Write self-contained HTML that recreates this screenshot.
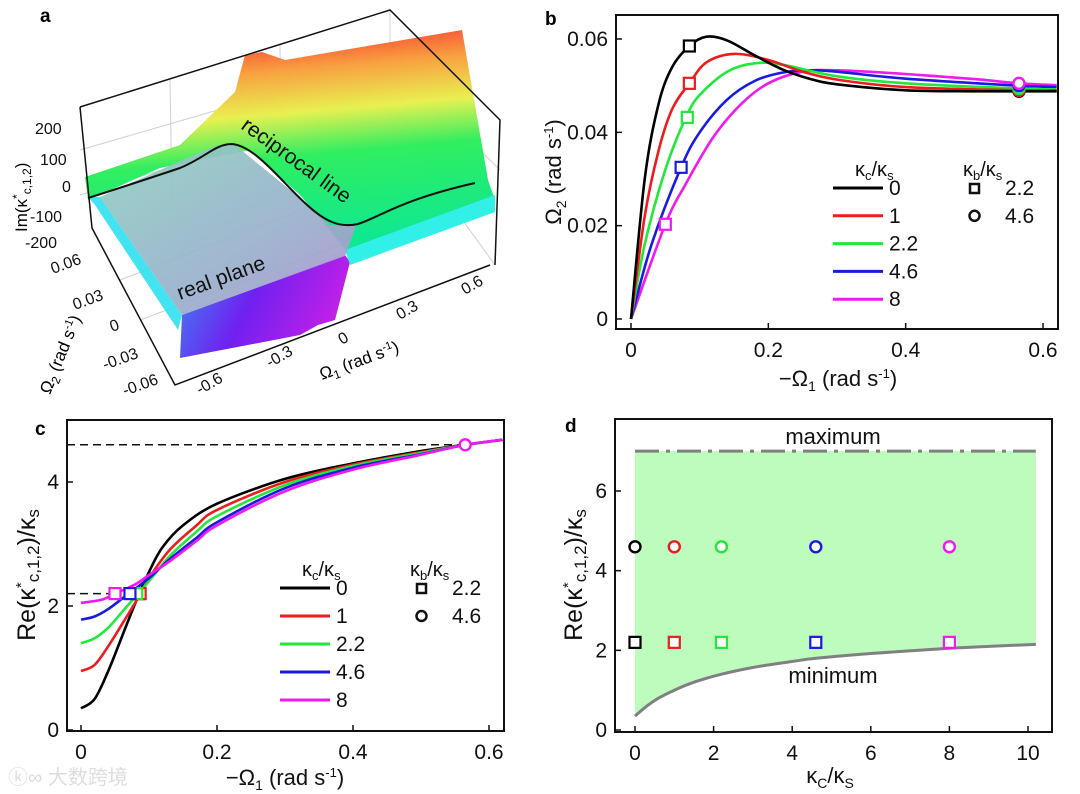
<!DOCTYPE html>
<html><head><meta charset="utf-8"><style>
html,body{margin:0;padding:0;background:#fff;}
svg{display:block;font-family:"Liberation Sans",Arial,sans-serif;}
</style></head><body>
<svg id="fig" width="1080" height="794" viewBox="0 0 1080 794" xmlns="http://www.w3.org/2000/svg">
<defs>
<linearGradient id="gUp" x1="0.55" y1="0.95" x2="0.4" y2="0">
<stop offset="0" stop-color="#10e890"/><stop offset="0.4" stop-color="#30ee60"/><stop offset="0.6" stop-color="#e8f050"/><stop offset="0.8" stop-color="#f8a040"/><stop offset="1" stop-color="#f83030"/>
</linearGradient>
<linearGradient id="gLo" x1="0" y1="0" x2="1" y2="0.3">
<stop offset="0" stop-color="#3a8cf0"/><stop offset="0.5" stop-color="#7020f0"/><stop offset="1" stop-color="#c020e8"/>
</linearGradient>
<linearGradient id="gPlane" x1="0" y1="0" x2="1" y2="1">
<stop offset="0" stop-color="#8fd0c0"/><stop offset="0.6" stop-color="#98b0cc"/><stop offset="1" stop-color="#b090d0"/>
</linearGradient>
</defs>

<g>
<text x="40" y="22" font-size="19" font-weight="bold">a</text>
<g stroke="#d0d0d0" stroke-width="1" fill="none">
<line x1="170" y1="80" x2="172" y2="200"/><line x1="280" y1="45" x2="282" y2="170"/><line x1="390" y1="10" x2="390" y2="130"/>
<line x1="80" y1="150" x2="390" y2="60"/><line x1="80" y1="195" x2="390" y2="100"/>
<line x1="390" y1="60" x2="500" y2="170"/><line x1="390" y1="120" x2="495" y2="265"/>
<line x1="120" y1="280" x2="430" y2="160"/><line x1="140" y1="320" x2="460" y2="200"/>
</g>
<polygon points="85,177 180,145 235,92 245,55 262,52 285,60 462,30 488,180 495,200 347,252 330,230 300,195 250,150 160,168 88,200" fill="url(#gUp)"/>
<polygon points="182,315 345,255 350,262 335,320 318,325 300,335 180,358" fill="url(#gLo)"/>
<polygon points="88,197 100,197 182,315 178,330 95,205" fill="#30e0f0" opacity="0.9"/>
<polygon points="345,250 495,195 495,212 350,265" fill="#30f0e8"/>
<polygon points="100,197 160,170 215,146 235,145 300,198 330,225 356,226 345,256 182,315" fill="url(#gPlane)" opacity="0.92"/>
<path d="M88,198 C120,188 150,178 180,168 C205,158 215,144 232,144 C255,146 280,180 305,203 C325,222 340,228 358,224 C380,217 400,200 475,183" fill="none" stroke="#111" stroke-width="2"/>
<g stroke="#111" stroke-width="1.5" fill="none">
<polyline points="80,107 390,10 500,120 495,265"/>
<polyline points="80,107 92,228 175,385 490,265"/>
</g>
<g font-size="16" fill="#111">
<text x="35" y="134">200</text><text x="40" y="165">100</text><text x="62" y="192">0</text><text x="30" y="222">-100</text><text x="25" y="248">-200</text>
</g>
<g font-size="16" fill="#111">
<text x="53" y="274" transform="rotate(-20 53 274)">0.06</text><text x="75" y="310" transform="rotate(-20 75 310)">0.03</text><text x="112" y="332" transform="rotate(-20 112 332)">0</text><text x="105" y="370" transform="rotate(-20 105 370)">-0.03</text><text x="125" y="396" transform="rotate(-20 125 396)">-0.06</text>
</g>
<g font-size="16" fill="#111">
<text x="200" y="395" transform="rotate(-30 200 395)">-0.6</text><text x="270" y="368" transform="rotate(-30 270 368)">-0.3</text><text x="342" y="345" transform="rotate(-30 342 345)">0</text><text x="400" y="320" transform="rotate(-30 400 320)">0.3</text><text x="465" y="295" transform="rotate(-30 465 295)">0.6</text>
</g>
<text x="27" y="232" font-size="17" transform="rotate(-90 27 232)">Im(κ<tspan font-size="12" dy="-6">*</tspan><tspan font-size="12" dy="10">c,1,2</tspan><tspan dy="-4">)</tspan></text>
<text x="50" y="395" font-size="17" transform="rotate(-68 50 395)">Ω<tspan font-size="12" dy="4">2</tspan><tspan dy="-4"> (rad s</tspan><tspan font-size="11" dy="-6">-1</tspan><tspan dy="6">)</tspan></text>
<text x="322" y="380" font-size="17" transform="rotate(-20 322 380)">Ω<tspan font-size="12" dy="4">1</tspan><tspan dy="-4"> (rad s</tspan><tspan font-size="11" dy="-6">-1</tspan><tspan dy="6">)</tspan></text>
<text x="240" y="128" font-size="21" fill="#111" transform="rotate(36 240 128)">reciprocal line</text>
<text x="180" y="300" font-size="21" fill="#111" transform="rotate(-20 180 300)">real plane</text>
</g>

<g id="pb"></g>
<g id="pc"></g>
<g id="pd"></g>
<text x="8" y="784" font-size="20" fill="#ddd" font-family="'Liberation Sans','Noto Sans CJK SC',sans-serif">ⓚ∞ 大数跨境</text>
</svg>
<script>
const NS="http://www.w3.org/2000/svg";
const colors=["#000000","#ee1c1c","#22e83a","#1a1ae0","#f019f0"];
const kcLabels=["0","1","2.2","4.6","8"];
// Panel b data
const bX0=[0,0.02,0.04,0.06,0.085,0.11,0.14,0.18,0.22,0.26,0.3,0.4,0.5,0.565,0.62];
const bY0=[0,0.03,0.046,0.054,0.0585,0.0605,0.0597,0.0565,0.0535,0.0515,0.0503,0.049,0.0488,0.0488,0.0488];
const bX1=[0,0.02,0.04,0.06,0.085,0.11,0.15,0.2,0.25,0.3,0.4,0.565,0.62];
const bY1=[0,0.022,0.036,0.045,0.0505,0.055,0.0568,0.0555,0.053,0.0513,0.0497,0.049,0.049];
const bX2=[0,0.02,0.05,0.08,0.1,0.14,0.18,0.22,0.3,0.4,0.565,0.62];
const bY2=[0,0.016,0.032,0.0432,0.048,0.053,0.0548,0.0545,0.052,0.0505,0.0494,0.0492];
const bX3=[0,0.03,0.073,0.1,0.14,0.18,0.22,0.26,0.3,0.4,0.565,0.62];
const bY3=[0,0.016,0.0325,0.04,0.047,0.051,0.0528,0.0533,0.053,0.0515,0.05,0.0497];
const bX4=[0,0.05,0.08,0.12,0.16,0.2,0.25,0.3,0.4,0.5,0.565,0.62];
const bY4=[0,0.0203,0.029,0.039,0.046,0.0505,0.053,0.0533,0.0525,0.0514,0.0505,0.0501];
const bSqX=[0.085,0.085,0.082,0.073,0.05];
const bSqY=[0.0585,0.0505,0.0432,0.0325,0.0203];
const bCiX=[0.565,0.565,0.565,0.565,0.565];
const bCiY=[0.0488,0.049,0.0494,0.05,0.0505];
const bXTicks=[0,0.2,0.4,0.6];
const bYTicks=[0,0.02,0.04,0.06];
// Panel c data
const cX0=[0,0.02,0.04,0.06,0.08,0.1,0.12,0.15,0.2,0.3,0.4,0.5,0.565,0.62];
const cY0=[0.35,0.5,0.95,1.5,2.05,2.55,2.95,3.3,3.65,4.05,4.3,4.5,4.6,4.68];
const cX1=[0,0.02,0.04,0.06,0.085,0.1,0.13,0.17,0.2,0.3,0.4,0.5,0.565,0.62];
const cY1=[0.95,1.05,1.35,1.7,2.15,2.45,2.9,3.3,3.55,4.0,4.28,4.48,4.6,4.68];
const cX2=[0,0.02,0.04,0.06,0.08,0.1,0.13,0.17,0.2,0.3,0.4,0.5,0.565,0.62];
const cY2=[1.4,1.48,1.65,1.9,2.15,2.4,2.8,3.2,3.45,3.95,4.26,4.47,4.6,4.68];
const cX3=[0,0.02,0.04,0.07,0.1,0.13,0.17,0.2,0.3,0.4,0.5,0.565,0.62];
const cY3=[1.78,1.83,1.95,2.2,2.45,2.75,3.1,3.35,3.9,4.23,4.45,4.6,4.68];
const cX4=[0,0.03,0.05,0.08,0.1,0.13,0.17,0.2,0.3,0.4,0.5,0.565,0.62];
const cY4=[2.05,2.1,2.2,2.35,2.5,2.72,3.05,3.3,3.85,4.2,4.44,4.6,4.68];
const cSqX=[0.085,0.087,0.082,0.072,0.05];
const cSqY=[2.2,2.2,2.2,2.2,2.2];
const cRefLines=[4.6,2.2];
const cXTicks=[0,0.2,0.4,0.6];
const cYTicks=[0,2,4];
// Panel d data
const dKc=[0,1,2.2,4.6,8];
const dCircleY=[4.6,4.6,4.6,4.6,4.6];
const dSquareY=[2.2,2.2,2.2,2.2,2.2];
const dMinX=[0,0.3,0.6,1,1.5,2.2,3,4,4.6,6,8,9,10.2];
const dMinY=[0.35,0.6,0.8,1.0,1.2,1.4,1.57,1.72,1.8,1.92,2.05,2.1,2.15];
const dMax=7;
const dXTicks=[0,2,4,6,8,10];
const dYTicks=[0,2,4,6];

function el(tag,attrs,parent){const e=document.createElementNS(NS,tag);for(const k in attrs)e.setAttribute(k,attrs[k]);parent.appendChild(e);return e;}
function lin(d0,d1,r0,r1){return v=>r0+(v-d0)*(r1-r0)/(d1-d0);}
function smooth(pts){let d="M"+pts[0][0]+","+pts[0][1];for(let i=0;i<pts.length-1;i++){const p0=pts[Math.max(0,i-1)],p1=pts[i],p2=pts[i+1],p3=pts[Math.min(pts.length-1,i+2)];const c1x=p1[0]+(p2[0]-p0[0])/6,c1y=p1[1]+(p2[1]-p0[1])/6,c2x=p2[0]-(p3[0]-p1[0])/6,c2y=p2[1]-(p3[1]-p1[1])/6;d+=" C"+c1x.toFixed(1)+","+c1y.toFixed(1)+" "+c2x.toFixed(1)+","+c2y.toFixed(1)+" "+p2[0].toFixed(1)+","+p2[1].toFixed(1);}return d;}
function axes(g,box,sx,sy,xt,yt,xfmt,yfmt){
  const r=el("rect",{x:box[0],y:box[1],width:box[2]-box[0],height:box[3]-box[1],fill:"none",stroke:"#111","stroke-width":2},g);
  
  
  xt.forEach(v=>{const x=sx(v);el("line",{x1:x,y1:box[3],x2:x,y2:box[3]-6,stroke:"#111","stroke-width":1.5},g);
    const t=el("text",{x:x,y:box[3]+28,"font-size":21,"text-anchor":"middle",fill:"#111"},g);t.textContent=xfmt(v);
    
    });
  yt.forEach(v=>{const y=sy(v);el("line",{x1:box[0],y1:y,x2:box[0]+6,y2:y,stroke:"#111","stroke-width":1.5},g);
    const t=el("text",{x:box[0]-8,y:y+7,"font-size":21,"text-anchor":"end",fill:"#111"},g);t.textContent=yfmt(v);
    
    });
}
function square(g,x,y,c){const s=el("rect",{x:x-5.5,y:y-5.5,width:11,height:11,fill:"#fff",stroke:c,"stroke-width":2.2},g);
  
  }
function circle(g,x,y,c){const s=el("circle",{cx:x,cy:y,r:5.5,fill:"#fff",stroke:c,"stroke-width":2.4},g);
  
  }
function legend(g,x0,y0,dy){
  const h=el("text",{x:x0+22,y:y0-12,"font-size":20,fill:"#111"},g);h.innerHTML='κ<tspan font-size="13" dy="4">c</tspan><tspan dy="-4">/κ</tspan><tspan font-size="13" dy="4">s</tspan>';
  
  
  kcLabels.forEach((l,i)=>{const y=y0+i*dy;
    const ln=el("line",{x1:x0,y1:y,x2:x0+50,y2:y,stroke:colors[i],"stroke-width":3},g);
    
    
    const t=el("text",{x:x0+56,y:y+7,"font-size":21,fill:"#111"},g);t.textContent=l;
    
    });
  const h2=el("text",{x:x0+130,y:y0-12,"font-size":20,fill:"#111"},g);h2.innerHTML='κ<tspan font-size="13" dy="4">b</tspan><tspan dy="-4">/κ</tspan><tspan font-size="13" dy="4">s</tspan>';
  
  
  const s=el("rect",{x:x0+137,y:y0-4,width:9,height:9,fill:"#fff",stroke:"#111","stroke-width":2.5},g);
  
  
  const t1=el("text",{x:x0+172,y:y0+7,"font-size":21,fill:"#111"},g);t1.textContent="2.2";
  
  
  const c=el("circle",{cx:x0+141.5,cy:y0+dy,r:5,fill:"#fff",stroke:"#111","stroke-width":2.5},g);
  
  
  const t2=el("text",{x:x0+172,y:y0+dy+7,"font-size":21,fill:"#111"},g);t2.textContent="4.6";
  
  
}
const fmt=v=>String(v);
// ---- Panel b
(function(){
  const g=document.getElementById("pb");const box=[616,15,1058,329];
  const sx=lin(0,0.6,631,1043),sy=lin(0,0.06,319,39);
  const lab=el("text",{x:545,y:25,"font-size":19,"font-weight":"bold"},g);lab.textContent="b";
  
  
  const cp=el("clipPath",{id:"cpb"},g);el("rect",{x:box[0],y:box[1],width:box[2]-box[0],height:box[3]-box[1]},cp);
  const xs=[bX0,bX1,bX2,bX3,bX4],ys=[bY0,bY1,bY2,bY3,bY4];
  for(let i=4;i>=0;i--){const p=el("path",{d:smooth(xs[i].map((x,j)=>[sx(x),sy(ys[i][j])])),fill:"none",stroke:colors[i],"stroke-width":2.6,"clip-path":"url(#cpb)"},g);
    
    }
  for(let i=0;i<5;i++){circle(g,sx(bCiX[i]),sy(bCiY[i]),colors[i]);}
  for(let i=0;i<5;i++){square(g,sx(bSqX[i]),sy(bSqY[i]),colors[i]);}
  axes(g,box,sx,sy,bXTicks,bYTicks,fmt,fmt);
  legend(g,833,188,27.8);
  const xl=el("text",{x:838,y:386,"font-size":22,"text-anchor":"middle",fill:"#111"},g);xl.innerHTML='−Ω<tspan font-size="14" dy="5">1</tspan><tspan dy="-5"> (rad s</tspan><tspan font-size="13" dy="-8">-1</tspan><tspan dy="8">)</tspan>';
  
  
  const yl=el("text",{x:561,y:172,"font-size":22,"text-anchor":"middle",fill:"#111",transform:"rotate(-90 561 172)"},g);yl.innerHTML='Ω<tspan font-size="14" dy="5">2</tspan><tspan dy="-5"> (rad s</tspan><tspan font-size="13" dy="-8">-1</tspan><tspan dy="8">)</tspan>';
  
  
})();
// ---- Panel c
(function(){
  const g=document.getElementById("pc");const box=[67,420,504,731];
  const sx=lin(0,0.6,81,489),sy=lin(0,4,730,482);
  const lab=el("text",{x:35,y:435,"font-size":19,"font-weight":"bold"},g);lab.textContent="c";
  
  
  const d1=el("line",{x1:box[0],y1:sy(cRefLines[0]),x2:sx(0.565),y2:sy(cRefLines[0]),stroke:"#111","stroke-width":1.5,"stroke-dasharray":"8,5"},g);
  
  
  const d2=el("line",{x1:box[0],y1:sy(cRefLines[1]),x2:sx(0.05),y2:sy(cRefLines[1]),stroke:"#111","stroke-width":1.5,"stroke-dasharray":"8,5"},g);
  
  
  const cp=el("clipPath",{id:"cpc"},g);el("rect",{x:box[0],y:box[1],width:box[2]-box[0],height:box[3]-box[1]},cp);
  const xs=[cX0,cX1,cX2,cX3,cX4],ys=[cY0,cY1,cY2,cY3,cY4];
  for(let i=0;i<5;i++){const p=el("path",{d:smooth(xs[i].map((x,j)=>[sx(x),sy(ys[i][j])])),fill:"none",stroke:colors[i],"stroke-width":2.6,"clip-path":"url(#cpc)"},g);
    
    }
  for(let i=0;i<5;i++){square(g,sx(cSqX[i]),sy(cSqY[i]),colors[i]);}
  circle(g,sx(0.565),sy(4.6),colors[4]);
  axes(g,box,sx,sy,cXTicks,cYTicks,fmt,fmt);
  legend(g,280,588,28);
  const xl=el("text",{x:285,y:785,"font-size":22,"text-anchor":"middle",fill:"#111"},g);xl.innerHTML='−Ω<tspan font-size="14" dy="5">1</tspan><tspan dy="-5"> (rad s</tspan><tspan font-size="13" dy="-8">-1</tspan><tspan dy="8">)</tspan>';
  
  
  const yl=el("text",{x:35,y:575,"font-size":25,"text-anchor":"middle",fill:"#111",transform:"rotate(-90 35 575)"},g);yl.innerHTML='Re(κ<tspan font-size="15" dy="-9">*</tspan><tspan font-size="17" dy="13">c,1,2</tspan><tspan dy="-4">)/κ</tspan><tspan font-size="17" dy="4">s</tspan>';
  
  
})();
// ---- Panel d
(function(){
  const g=document.getElementById("pd");const box=[615,419,1052,732];
  const sx=lin(0,10,635,1028),sy=lin(0,6,730,491);
  const lab=el("text",{x:565,y:432,"font-size":19,"font-weight":"bold"},g);lab.textContent="d";
  
  
  let pts=dMinX.map((x,j)=>[sx(x),sy(dMinY[j])]);
  let area="M"+sx(0)+","+sy(dMax)+" L"+sx(10.2)+","+sy(dMax)+" L"+pts[pts.length-1][0]+","+pts[pts.length-1][1];
  for(let j=pts.length-2;j>=0;j--)area+=" L"+pts[j][0]+","+pts[j][1];
  area+=" Z";
  const a=el("path",{d:area,fill:"#bdfcbd"},g);
  
  
  const mn=el("path",{d:smooth(pts),fill:"none",stroke:"#808080","stroke-width":3},g);
  
  
  const mx=el("line",{x1:sx(0),y1:sy(dMax),x2:sx(10.2),y2:sy(dMax),stroke:"#808080","stroke-width":3,"stroke-dasharray":"24,7,4,7"},g);
  
  
  for(let i=0;i<5;i++){circle(g,sx(dKc[i]),sy(dCircleY[i]),colors[i]);square(g,sx(dKc[i]),sy(dSquareY[i]),colors[i]);}
  axes(g,box,sx,sy,dXTicks,dYTicks,fmt,fmt);
  const t1=el("text",{x:833,y:444,"font-size":22,"text-anchor":"middle",fill:"#111"},g);t1.textContent="maximum";
  
  
  const t2=el("text",{x:833,y:683,"font-size":22,"text-anchor":"middle",fill:"#111"},g);t2.textContent="minimum";
  
  
  const xl=el("text",{x:830,y:783,"font-size":22,"text-anchor":"middle",fill:"#111"},g);xl.innerHTML='κ<tspan font-size="14" dy="5">C</tspan><tspan dy="-5">/κ</tspan><tspan font-size="14" dy="5">S</tspan>';
  
  
  const yl=el("text",{x:582,y:575,"font-size":25,"text-anchor":"middle",fill:"#111",transform:"rotate(-90 582 575)"},g);yl.innerHTML='Re(κ<tspan font-size="15" dy="-9">*</tspan><tspan font-size="17" dy="13">c,1,2</tspan><tspan dy="-4">)/κ</tspan><tspan font-size="17" dy="4">s</tspan>';
  
  
})();
</script>
</body></html>
